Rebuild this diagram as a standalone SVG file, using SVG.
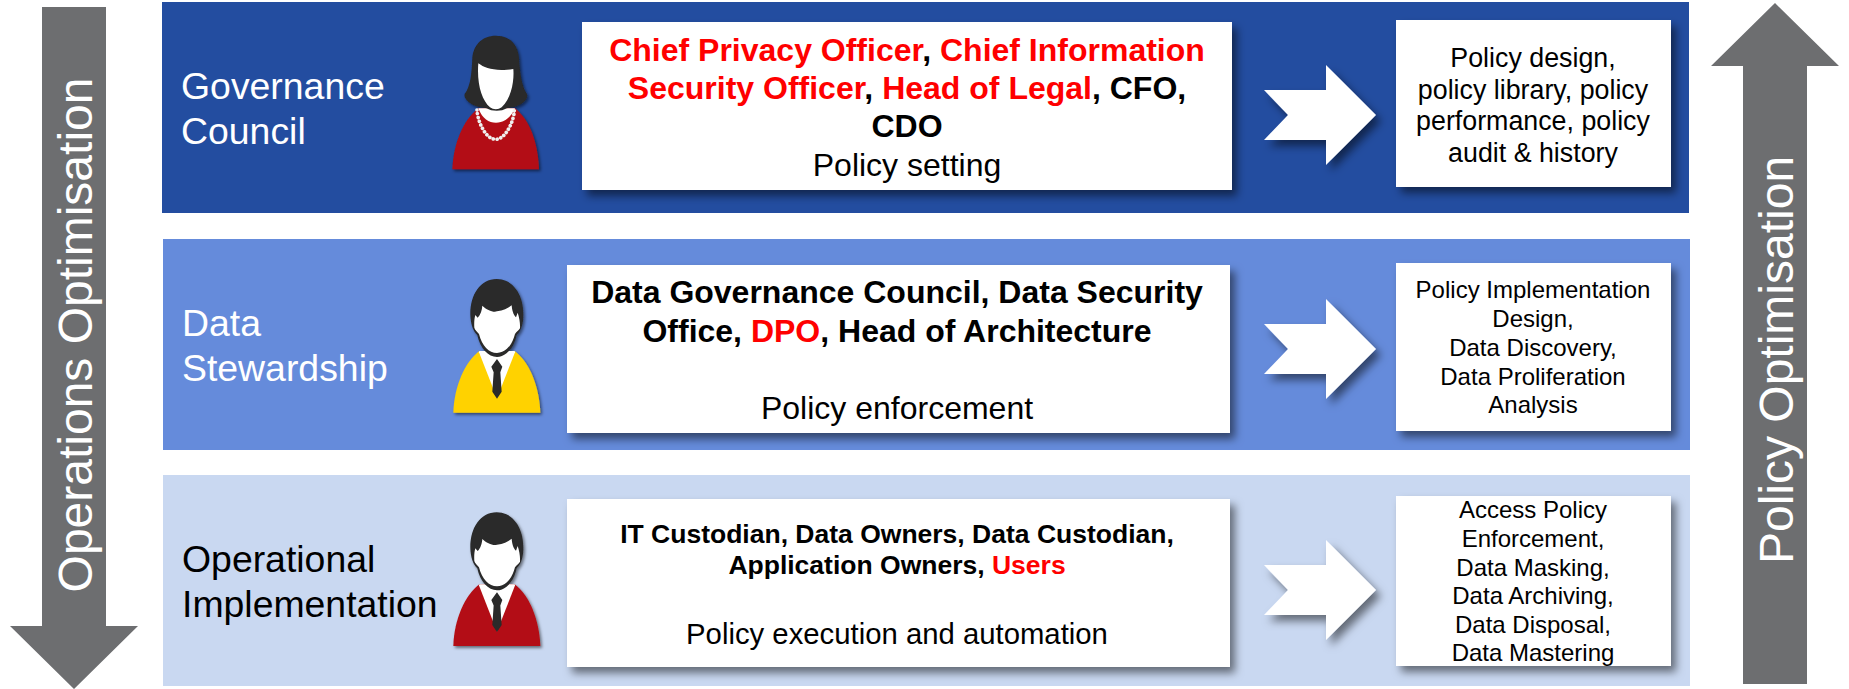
<svg xmlns="http://www.w3.org/2000/svg" xmlns:xlink="http://www.w3.org/1999/xlink" width="1849" height="689" viewBox="0 0 1849 689">
<style>
text{font-family:"Liberation Sans",Arial,sans-serif;text-anchor:middle}
.t{font-size:37.4px;text-anchor:start}
.g{font-size:48px;fill:#fff}
.b1{font-size:32px;font-weight:bold;fill:#000}
.b3{font-size:26.5px;font-weight:bold;fill:#000}
.r{fill:#f00}
.p{font-size:32px;fill:#000}
.p3{font-size:29.3px;fill:#000}
.s{font-size:26.8px;fill:#000}
.s2{font-size:24px;fill:#000}
.box{fill:#fff;filter:url(#sh)}
.arrow{fill:#fff;filter:url(#sh)}
.grey{fill:#6d6e70}
</style>
<defs>
<filter id="sh" x="-20%" y="-20%" width="140%" height="140%"><feDropShadow dx="5" dy="6" stdDeviation="4" flood-color="#000" flood-opacity="0.5"/></filter>
<g id="man">
<path d="M100 458C102 380 135 305 178 273L284 273C328 305 358 380 361 458Z" fill="currentColor"/>
<path d="M178 273L284 273L285 277L231 415L177 277Z" fill="#fff"/>
<path d="M231 297L247 320L241 337L245 395L231 416L217 395L221 337L214 320Z" fill="#292929"/>
<path d="M230 57C180 57 150 105 151 165C152 190 158 212 172 225C180 265 205 291 231 291C257 291 282 265 290 225C304 212 310 190 310 165C311 105 280 57 230 57Z" fill="#292929"/>
<path d="M187 137C200 150 220 158 231 154C250 152 262 146 275 136C276 150 280 165 288 172L293 158C298 172 301 190 300 205C296 212 290 215 285 222C276 258 255 279 231 279C207 279 186 258 177 222C172 215 165 210 163 203C162 190 163 175 166 165L173 173C182 165 186 150 187 137Z" fill="#fff"/>
</g>
</defs>

<rect x="162" y="2" width="1527" height="211" fill="#234da0"/>
<rect x="163" y="239" width="1527" height="211" fill="#658bdb"/>
<rect x="163" y="475" width="1527" height="211" fill="#c9d8f1"/>

<g id="arrow-left">
<path class="grey" d="M42 7H106V626H138L74 689L10 626H42Z"/>
<text class="g" transform="translate(92 335) rotate(-90)">Operations Optimisation</text>
</g>
<g id="arrow-right">
<path class="grey" d="M1775 3L1839 66H1807V684H1743V66H1711Z"/>
<text class="g" transform="translate(1793 360) rotate(-90)">Policy Optimisation</text>
</g>

<g id="governance">
<text class="t" x="181" y="99" fill="#fff">Governance</text>
<text class="t" x="181" y="144" fill="#fff">Council</text>
<g id="woman" transform="translate(420 0) scale(0.3333)" filter="url(#sh)">
<path d="M97 508C100 430 130 360 175 325L285 325C330 360 354 430 357 508Z" fill="#b31013"/>
<path d="M175 325H285C270 358 248 368 228 368C206 368 188 358 175 325Z" fill="#fff"/>
<path d="M228 107C185 107 160 135 157 175C155 220 152 260 134 282C130 292 145 312 175 320L200 325C215 335 245 335 260 325L285 320C315 312 325 292 321 282C305 260 300 220 297 175C294 135 270 107 228 107Z" fill="#292929"/>
<path d="M175 190C195 205 225 215 280 207C283 240 275 295 245 322C235 330 220 330 210 322C185 300 170 250 175 190Z" fill="#fff"/>
<path d="M171 330C172 360 195 418 227 418C258 418 283 360 283 330" fill="none" stroke="#f0f0f0" stroke-width="11" stroke-dasharray="0.1 11.5" stroke-linecap="round"/>
</g>
<rect class="box" x="582" y="22" width="650" height="168"/>
<text class="b1" x="907" y="61"><tspan class="r">Chief Privacy Officer</tspan>, <tspan class="r">Chief Information</tspan></text>
<text class="b1" x="907" y="99"><tspan class="r">Security Officer</tspan>, <tspan class="r">Head of Legal</tspan>, CFO,</text>
<text class="b1" x="907" y="137">CDO</text>
<text class="p" x="907" y="176">Policy setting</text>
<path class="arrow" d="M1264 90H1326V65L1376 115L1326 165V140H1264L1288 115Z"/>
<rect class="box" x="1396" y="20" width="275" height="167"/>
<text class="s" x="1533" y="67">Policy design,</text>
<text class="s" x="1533" y="99">policy library, policy</text>
<text class="s" x="1533" y="130">performance, policy</text>
<text class="s" x="1533" y="162">audit &amp; history</text>
</g>

<g id="stewardship">
<text class="t" x="182" y="336" fill="#fff">Data</text>
<text class="t" x="182" y="381" fill="#fff">Stewardship</text>
<use xlink:href="#man" href="#man" transform="translate(420 260) scale(0.3333)" filter="url(#sh)" style="color:#ffd200"/>
<rect class="box" x="567" y="265" width="663" height="168"/>
<text class="b1" x="897" y="303">Data Governance Council, Data Security</text>
<text class="b1" x="897" y="342">Office, <tspan class="r">DPO</tspan>, Head of Architecture</text>
<text class="p" x="897" y="419">Policy enforcement</text>
<path class="arrow" d="M1264 324H1326V299L1376 349L1326 399V374H1264L1288 349Z"/>
<rect class="box" x="1396" y="263" width="275" height="168"/>
<text class="s2" x="1533" y="298">Policy Implementation</text>
<text class="s2" x="1533" y="327">Design,</text>
<text class="s2" x="1533" y="356">Data Discovery,</text>
<text class="s2" x="1533" y="385">Data Proliferation</text>
<text class="s2" x="1533" y="413">Analysis</text>
</g>

<g id="operational">
<text class="t" x="182" y="572">Operational</text>
<text class="t" x="182" y="617">Implementation</text>
<use xlink:href="#man" href="#man" transform="translate(420 493.3) scale(0.3333)" filter="url(#sh)" style="color:#b31013"/>
<rect class="box" x="567" y="499" width="663" height="168"/>
<text class="b3" x="897" y="543">IT Custodian, Data Owners, Data Custodian,</text>
<text class="b3" x="897" y="574">Application Owners, <tspan class="r">Users</tspan></text>
<text class="p3" x="897" y="644">Policy execution and automation</text>
<path class="arrow" d="M1264 565H1326V540L1376 590L1326 640V615H1264L1288 590Z"/>
<rect class="box" x="1396" y="496" width="275" height="170"/>
<text class="s2" x="1533" y="518">Access Policy</text>
<text class="s2" x="1533" y="547">Enforcement,</text>
<text class="s2" x="1533" y="576">Data Masking,</text>
<text class="s2" x="1533" y="604">Data Archiving,</text>
<text class="s2" x="1533" y="633">Data Disposal,</text>
<text class="s2" x="1533" y="661">Data Mastering</text>
</g>
</svg>
